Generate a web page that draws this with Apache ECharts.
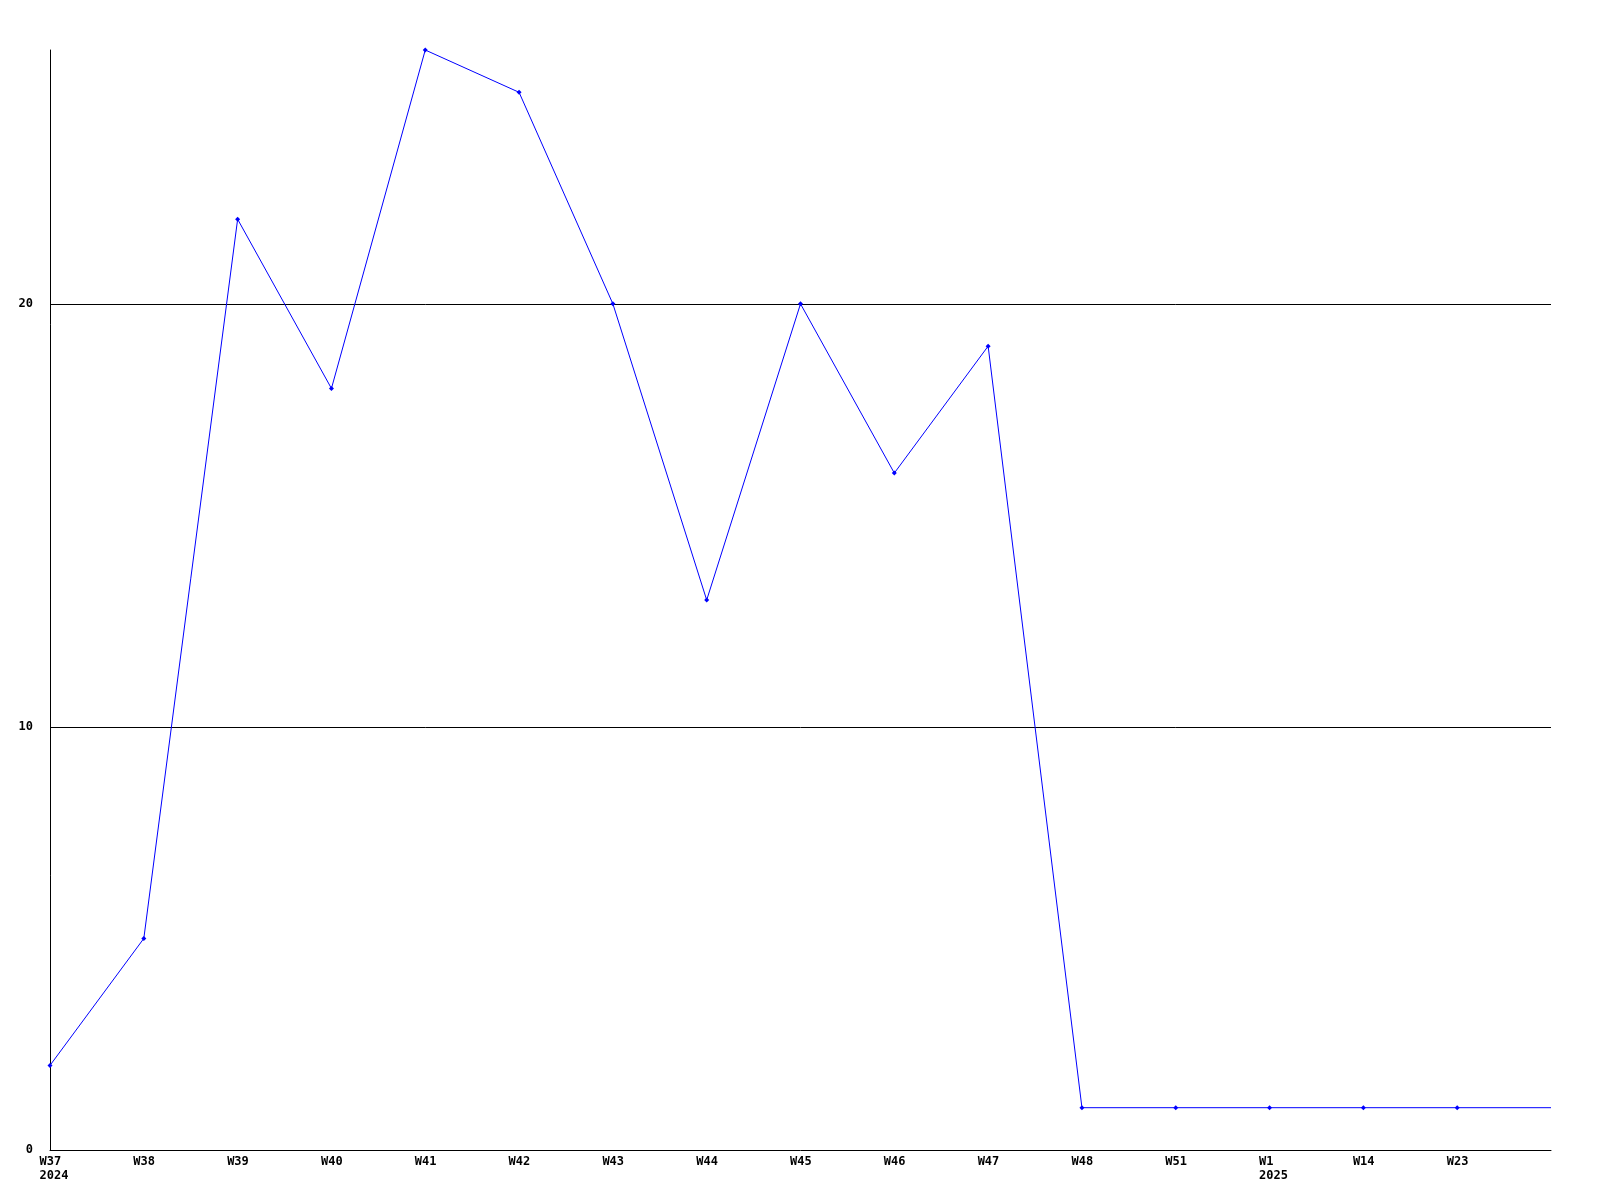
<!DOCTYPE html>
<html>
<head>
<meta charset="utf-8">
<script src="https://cdn.jsdelivr.net/npm/echarts@6/dist/echarts.min.js"></script>
<style>html,body{margin:0;padding:0;background:#fff}#c{width:1600px;height:1200px}</style>
</head>
<body>
<div id="c"></div>
<script>
var categories = ["W37\n2024","W38","W39","W40","W41","W42","W43","W44","W45","W46","W47","W48","W51","W1\n2025","W14","W23",""];
var values = [2,5,22,18,26,25,20,13,20,16,19,1,1,1,1,1,1];
var yTicks = [0,10,20];

var chart = echarts.init(document.getElementById('c'), null, {renderer:'canvas'});
var font = '"DejaVu Sans Mono", monospace';
var data = values.map(function(v,i){
  return i === values.length-1 ? {value:v, symbol:'none'} : v;
});
chart.setOption({
  animation:false,
  backgroundColor:'#ffffff',
  grid:{left:50, right:49, top:50, bottom:50, containLabel:false},
  xAxis:{
    type:'category', data:categories, boundaryGap:false,
    axisLine:{show:true, lineStyle:{color:'#000', width:1}},
    axisTick:{show:false},
    splitLine:{show:false},
    axisLabel:{
      interval:0, margin:5, color:'#000', fontFamily:font, fontWeight:'bold', fontSize:12,
      lineHeight:14, align:'center',
      formatter:function(v){ return v.split('\n').map(function(s){return '{a|'+s+'}';}).join('\n'); },
      rich:{a:{width:21, align:'left', fontFamily:font, fontWeight:'bold', fontSize:12, color:'#000', lineHeight:14}}
    }
  },
  yAxis:{
    type:'value', min:0, max:26, interval:10,
    axisLine:{show:true, lineStyle:{color:'#000', width:1}},
    axisTick:{show:false},
    splitLine:{show:true, showMinLine:false, showMaxLine:false, lineStyle:{color:'#000', width:1}},
    axisLabel:{
      margin:17, color:'#000', fontFamily:font, fontWeight:'bold', fontSize:12, showMaxLabel:false,
      formatter:function(v){ return yTicks.indexOf(v) >= 0 ? String(v) : ''; }
    }
  },
  series:[{
    type:'line', data:data,
    symbol:'diamond', symbolSize:5, showSymbol:true,
    lineStyle:{color:'#0000ff', width:1},
    itemStyle:{color:'#0000ff'},
    clip:false
  }]
});
</script>
</body>
</html>
